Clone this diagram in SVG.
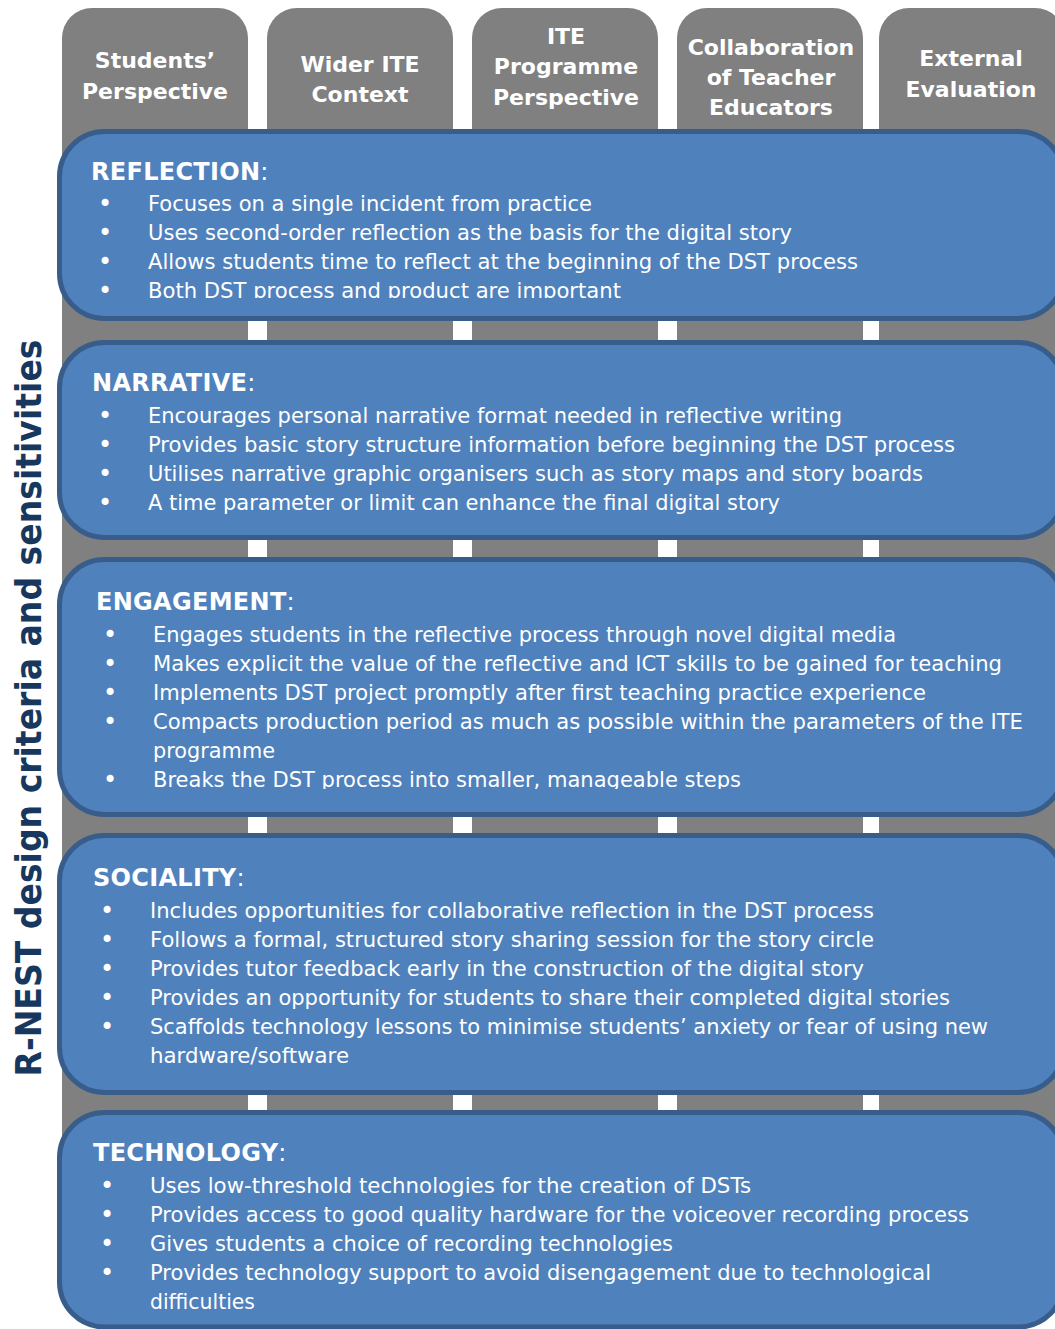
<svg xmlns="http://www.w3.org/2000/svg" width="1055" height="1329" viewBox="0 0 1055 1329">
<style>
.col{fill:#808080}
.box{fill:#4F81BD;stroke:#385D8A;stroke-width:5}
.hd{font-family:"DejaVu Sans","Liberation Sans",sans-serif;font-size:22px;font-weight:bold;fill:#FFFFFF;text-anchor:middle}
.ti{font-family:"DejaVu Sans","Liberation Sans",sans-serif;font-size:24px;font-weight:bold;fill:#FFFFFF;letter-spacing:0.3px}
.ti tspan{font-weight:normal}
.it{font-family:"DejaVu Sans","Liberation Sans",sans-serif;font-size:21px;fill:#FFFFFF}
.bu{font-family:"DejaVu Sans","Liberation Sans",sans-serif;font-size:24px;fill:#FFFFFF;text-anchor:middle}
.side{font-family:"DejaVu Sans","Liberation Sans",sans-serif;font-size:35px;font-weight:bold;fill:#17375E;text-anchor:middle}
</style>
<defs>
<clipPath id="clip1"><rect x="0" y="0" width="1055" height="298"/></clipPath>
<clipPath id="clip3"><rect x="0" y="0" width="1055" height="789"/></clipPath>
</defs>
<rect width="1055" height="1329" fill="#FFFFFF"/>

<g id="tab-students">
<rect class="col" x="62" y="8" width="186" height="1285" rx="30"/>
<text class="hd" x="155" y="68">Students’</text>
<text class="hd" x="155" y="99">Perspective</text>
</g>
<g id="tab-wider">
<rect class="col" x="267" y="8" width="186" height="1285" rx="30"/>
<text class="hd" x="360" y="72">Wider ITE</text>
<text class="hd" x="360" y="102">Context</text>
</g>
<g id="tab-programme">
<rect class="col" x="472" y="8" width="186" height="1285" rx="30"/>
<text class="hd" x="566" y="44">ITE</text>
<text class="hd" x="566" y="74">Programme</text>
<text class="hd" x="566" y="105">Perspective</text>
</g>
<g id="tab-collaboration">
<rect class="col" x="677" y="8" width="186" height="1285" rx="30"/>
<text class="hd" x="771" y="55">Collaboration</text>
<text class="hd" x="771" y="85">of Teacher</text>
<text class="hd" x="771" y="115">Educators</text>
</g>
<g id="tab-external">
<rect class="col" x="879" y="8" width="186" height="1285" rx="30"/>
<text class="hd" x="971" y="66">External</text>
<text class="hd" x="971" y="97">Evaluation</text>
</g>

<g id="connectors"></g>

<g id="box-reflection">
<rect class="box" x="59.5" y="131.5" width="1004" height="187" rx="45"/>
<text class="ti" x="91" y="180">REFLECTION<tspan>:</tspan></text>
<g clip-path="url(#clip1)">
<text class="bu" x="105" y="212">•</text><text class="it" x="148" y="210.5" textLength="444" lengthAdjust="spacingAndGlyphs">Focuses on a single incident from practice</text>
<text class="bu" x="105" y="241">•</text><text class="it" x="148" y="239.5" textLength="644" lengthAdjust="spacingAndGlyphs">Uses second-order reflection as the basis for the digital story</text>
<text class="bu" x="105" y="270">•</text><text class="it" x="148" y="268.5" textLength="710" lengthAdjust="spacingAndGlyphs">Allows students time to reflect at the beginning of the DST process</text>
<text class="bu" x="105" y="299">•</text><text class="it" x="148" y="297.5" textLength="473" lengthAdjust="spacingAndGlyphs">Both DST process and product are important</text>
</g>
</g>

<g id="box-narrative">
<rect class="box" x="59.5" y="342.5" width="1004" height="195" rx="45"/>
<text class="ti" x="92" y="391">NARRATIVE<tspan>:</tspan></text>
<text class="bu" x="105" y="424">•</text><text class="it" x="148" y="422.5" textLength="694" lengthAdjust="spacingAndGlyphs">Encourages personal narrative format needed in reflective writing</text>
<text class="bu" x="105" y="453">•</text><text class="it" x="148" y="451.5" textLength="807" lengthAdjust="spacingAndGlyphs">Provides basic story structure information before beginning the DST process</text>
<text class="bu" x="105" y="482">•</text><text class="it" x="148" y="480.5" textLength="775" lengthAdjust="spacingAndGlyphs">Utilises narrative graphic organisers such as story maps and story boards</text>
<text class="bu" x="105" y="511">•</text><text class="it" x="148" y="509.5" textLength="632" lengthAdjust="spacingAndGlyphs">A time parameter or limit can enhance the final digital story</text>
</g>

<g id="box-engagement">
<rect class="box" x="59.5" y="559.5" width="1004" height="255" rx="45"/>
<text class="ti" x="96" y="610">ENGAGEMENT<tspan>:</tspan></text>
<g clip-path="url(#clip3)">
<text class="bu" x="110" y="643">•</text><text class="it" x="153" y="641.5" textLength="743" lengthAdjust="spacingAndGlyphs">Engages students in the reflective process through novel digital media</text>
<text class="bu" x="110" y="672">•</text><text class="it" x="153" y="670.5" textLength="849" lengthAdjust="spacingAndGlyphs">Makes explicit the value of the reflective and ICT skills to be gained for teaching</text>
<text class="bu" x="110" y="701">•</text><text class="it" x="153" y="699.5" textLength="773" lengthAdjust="spacingAndGlyphs">Implements DST project promptly after first teaching practice experience</text>
<text class="bu" x="110" y="730">•</text><text class="it" x="153" y="728.5" textLength="870" lengthAdjust="spacingAndGlyphs">Compacts production period as much as possible within the parameters of the ITE</text>
<text class="it" x="153" y="757.5" textLength="122" lengthAdjust="spacingAndGlyphs">programme</text>
<text class="bu" x="110" y="788">•</text><text class="it" x="153" y="786.5" textLength="588" lengthAdjust="spacingAndGlyphs">Breaks the DST process into smaller, manageable steps</text>
</g>
</g>

<g id="box-sociality">
<rect class="box" x="59.5" y="835.5" width="1004" height="257" rx="45"/>
<text class="ti" x="93" y="886">SOCIALITY<tspan>:</tspan></text>
<text class="bu" x="107" y="919">•</text><text class="it" x="150" y="917.5" textLength="724" lengthAdjust="spacingAndGlyphs">Includes opportunities for collaborative reflection in the DST process</text>
<text class="bu" x="107" y="948">•</text><text class="it" x="150" y="946.5" textLength="724" lengthAdjust="spacingAndGlyphs">Follows a formal, structured story sharing session for the story circle</text>
<text class="bu" x="107" y="977">•</text><text class="it" x="150" y="975.5" textLength="714" lengthAdjust="spacingAndGlyphs">Provides tutor feedback early in the construction of the digital story</text>
<text class="bu" x="107" y="1006">•</text><text class="it" x="150" y="1004.5" textLength="800" lengthAdjust="spacingAndGlyphs">Provides an opportunity for students to share their completed digital stories</text>
<text class="bu" x="107" y="1035">•</text><text class="it" x="150" y="1033.5" textLength="838" lengthAdjust="spacingAndGlyphs">Scaffolds technology lessons to minimise students’ anxiety or fear of using new</text>
<text class="it" x="150" y="1062.5" textLength="199" lengthAdjust="spacingAndGlyphs">hardware/software</text>
</g>

<g id="box-technology">
<rect class="box" x="59.5" y="1112.5" width="1004" height="214.5" rx="45"/>
<text class="ti" x="93" y="1161">TECHNOLOGY<tspan>:</tspan></text>
<text class="bu" x="107" y="1194">•</text><text class="it" x="150" y="1192.5" textLength="601" lengthAdjust="spacingAndGlyphs">Uses low-threshold technologies for the creation of DSTs</text>
<text class="bu" x="107" y="1223">•</text><text class="it" x="150" y="1221.5" textLength="819" lengthAdjust="spacingAndGlyphs">Provides access to good quality hardware for the voiceover recording process</text>
<text class="bu" x="107" y="1252">•</text><text class="it" x="150" y="1250.5" textLength="523" lengthAdjust="spacingAndGlyphs">Gives students a choice of recording technologies</text>
<text class="bu" x="107" y="1281">•</text><text class="it" x="150" y="1279.5" textLength="781" lengthAdjust="spacingAndGlyphs">Provides technology support to avoid disengagement due to technological</text>
<text class="it" x="150" y="1308.5" textLength="105" lengthAdjust="spacingAndGlyphs">difficulties</text>
</g>

<g id="side-label">
<text class="side" transform="translate(41,708) rotate(-90)" textLength="737" lengthAdjust="spacingAndGlyphs">R-NEST design criteria and sensitivities</text>
</g>
</svg>
